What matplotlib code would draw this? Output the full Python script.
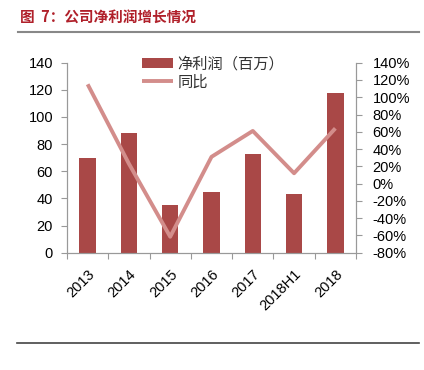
import matplotlib
matplotlib.use("Agg")
import matplotlib.pyplot as plt
import numpy as np

categories = ["2013", "2014", "2015", "2016", "2017", "2018H1", "2018"]
net_profit = [70, 88, 35, 45, 72.5, 43.5, 118]
yoy = [115, 23, -61.5, 31, 61, 12, 64]

plt.rcParams['font.family'] = ['Liberation Sans', 'Noto Sans CJK SC', 'DejaVu Sans']

fig = plt.figure(figsize=(4.24, 3.70), dpi=100)
ax = fig.add_axes([67/424, 1-252.7/370, (356-67)/424, (252.7-62.7)/370])
ax2 = ax.twinx()

x = np.arange(len(categories))
bar_color = "#A94847"
line_color = "#D38D8B"
b = ax.bar(x, net_profit, width=0.4, color=bar_color, zorder=2, label="净利润（百万）")
l, = ax2.plot(x, yoy, color=line_color, lw=2.8, solid_capstyle='butt', label="同比", zorder=3)

ax.set_xlim(-0.5, len(categories)-0.5)
ax.set_ylim(0, 140)
ax.set_yticks(np.arange(0, 141, 20))
ax2.set_ylim(-80, 140)
ax2.set_yticks(np.arange(-80, 141, 20))
ax2.set_yticklabels([f"{v}%" for v in range(-80, 141, 20)])

ax.set_xticks(np.arange(-0.5, len(categories), 1))
ax.set_xticklabels([])
ax.set_xticks(x + 0.12, minor=True)
ax.set_xticklabels(categories, minor=True, rotation=45, ha='right', va='center', rotation_mode='anchor', fontsize=10.5)
ax.tick_params(axis='x', which='minor', length=0, pad=14)
ax.tick_params(axis='x', which='major', length=4, color='#999999', direction='out')

ax.tick_params(axis='y', labelsize=10.5, length=4, color='#999999', pad=6)
ax2.tick_params(axis='y', labelsize=10.5, length=4, color='#999999', pad=8)

for a in (ax, ax2):
    a.spines['top'].set_visible(False)
    for s in ('left', 'right', 'bottom'):
        a.spines[s].set_color('#999999')
        a.spines[s].set_linewidth(0.8)
ax2.set_zorder(ax.get_zorder()+1)
ax2.patch.set_visible(False)

leg = ax2.legend([b, l], ["净利润（百万）", "同比"], loc='upper left', bbox_to_anchor=(0.24, 1.065),
                 frameon=False, fontsize=11, handlelength=2.0, handletextpad=0.3,
                 labelspacing=0.25, borderaxespad=0)
for t in leg.get_texts():
    t.set_color('#333333')

fig.text(20/424, 1-18/370, "图  7：公司净利润增长情况", color="#B0202A", fontsize=10.5, fontweight='bold',
         family=['Noto Sans CJK SC', 'DejaVu Sans'], va='center', ha='left')
fig.add_artist(plt.Line2D([18/424, 419/424], [1-32/370, 1-32/370], color='#888888', lw=1.5, transform=fig.transFigure))
fig.add_artist(plt.Line2D([17/424, 419/424], [1-343.3/370, 1-343.3/370], color='#444444', lw=1.2, transform=fig.transFigure))

fig.savefig("out.png", dpi=100)
